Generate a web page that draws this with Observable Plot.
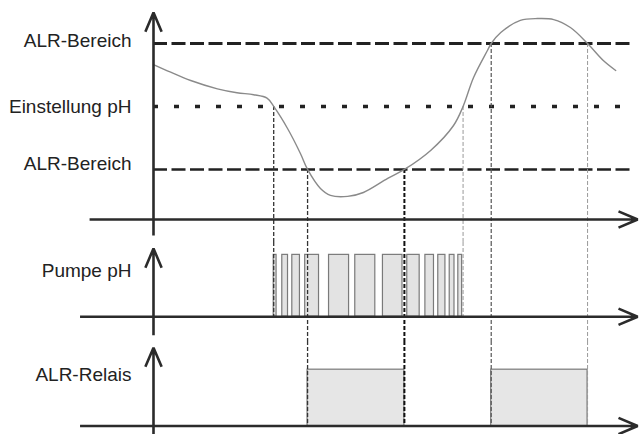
<!DOCTYPE html>
<html><head><meta charset="utf-8">
<script src="https://cdn.jsdelivr.net/npm/d3@7"></script>
<script src="https://cdn.jsdelivr.net/npm/@observablehq/plot@0.6"></script>
<style>
html,body{margin:0;padding:0;background:#fff;overflow:hidden;}
#chart svg{display:block;background:transparent;overflow:visible;}
</style></head><body><div id="chart"></div>
<script>
// ---- data (time in arbitrary units 0..100, pH values) ----
const curveT  = [0, 3.6, 7.8, 13.4, 17.5, 21.0, 23.8, 25.2, 28.1, 30.8, 32.3, 35.0, 37.1, 40.7, 44.0, 49.1, 52.6, 58.1, 62.9, 64.9, 67.1, 70.0, 70.8, 72.8, 76.9, 80.5, 83.9, 87.4, 91.0, 94.3, 96.9];
const curvePH = [7.333, 7.272, 7.206, 7.14, 7.109, 7.093, 7.066, 7.0, 6.825, 6.627, 6.5, 6.349, 6.294, 6.286, 6.317, 6.429, 6.5, 6.651, 6.849, 7.0, 7.23, 7.444, 7.5, 7.587, 7.683, 7.698, 7.69, 7.627, 7.5, 7.365, 7.286];

const levelLabels = ["ALR-Bereich", "Einstellung pH", "ALR-Bereich"];
const levelPH     = [7.5, 7.0, 6.5];

const pulseStart = [25.2, 27.0, 29.1, 31.8, 36.8, 42.3, 48.1, 53.2, 57.0, 59.7, 62.1, 63.9];
const pulseEnd   = [25.8, 28.2, 30.7, 34.7, 41.0, 46.5, 52.2, 55.8, 58.8, 61.2, 63.1, 64.7];

const relayStart = [32.3, 70.8];
const relayEnd   = [52.6, 91.0];

const crossT   = [25.2, 32.3, 52.6, 64.9, 70.8, 91.0];
const crossPH  = [7.0, 6.5, 6.5, 7.0, 7.5, 7.5];
const crossEnd = ["pump", "relais", "relais", "pump", "relais", "relais"];

const panelLabels = ["Pumpe pH", "ALR-Relais"];
const panelLabelY = [0.736, 0.914];

// ---- styles / layout ----
const FONT = "'Liberation Sans', Arial, sans-serif";
const AX = "#2b2b2b";
const guideStyle = [
  {w: 1.3, c: "#333"}, {w: 1.3, c: "#333"}, {w: 2.0, c: "#111"},
  {w: 1.0, c: "#999"}, {w: 1.2, c: "#555"}, {w: 1.0, c: "#999"}
];
const levelStyle = [
  {w: 3.2, d: "14,4.5", c: "#222", dy: -3, x2: 100},
  {w: 3.4, d: "5,16",   c: "#222", dy: 0,  x2: 100.5},
  {w: 2.4, d: "14,4.5", c: "#222", dy: -6, x2: 100}
];
const arrowOpts = {stroke: AX, strokeWidth: 2.6, headLength: 12, headAngle: 46, strokeLinejoin: "miter", strokeLinecap: "butt"};
const X = {domain: [0, 100], range: [153, 630], axis: null};
const common = {width: 642, margin: 0, style: {background: "transparent", overflow: "visible"}};

const curve = curveT.map((t, i) => ({t, ph: curvePH[i]}));
const levels = levelPH.map((ph, i) => ({ph, label: levelLabels[i]}));
const pulses = pulseStart.map((s, i) => ({s, e: pulseEnd[i]}));
const relays = relayStart.map((s, i) => ({s, e: relayEnd[i]}));
const crosses = crossT.map((t, i) => ({t, ph: crossPH[i], end: crossEnd[i]}));

// ---- top panel: pH curve ----
const topPlot = Plot.plot({
  ...common, height: 242,
  x: X,
  y: {domain: [5.92, 7.8], range: [242, 5.2], axis: null},
  marks: [
    ...levels.map((l, i) => Plot.ruleY([l], {y: "ph", x1: 0, x2: levelStyle[i].x2, stroke: levelStyle[i].c, strokeWidth: levelStyle[i].w, strokeDasharray: levelStyle[i].d})),
    ...levels.map((l, i) => Plot.text([l], {x: 0, y: "ph", text: "label", dx: -22, dy: levelStyle[i].dy, textAnchor: "end", fontSize: 19, fontFamily: FONT, fill: "#222"})),
    ...crosses.map((c, i) => Plot.ruleX([c], {x: "t", y1: "ph", y2: 5.92, stroke: guideStyle[i].c, strokeWidth: guideStyle[i].w, strokeDasharray: "4,2"})),
    Plot.line(curve, {x: "t", y: "ph", curve: "catmull-rom", stroke: "#8a8a8a", strokeWidth: 1.4}),
    Plot.arrow([0], {x1: 0, x2: 0, y1: 5.976, y2: 7.746, ...arrowOpts}),
    Plot.arrow([0], {x1: -13.4, x2: 101.5, y1: 6.103, y2: 6.103, ...arrowOpts})
  ]
});

// ---- pump panel ----
const pumpPlot = Plot.plot({
  ...common, height: 99,
  x: X,
  y: {domain: [-0.4, 1.2], range: [99, 0], axis: null},
  marks: [
    Plot.rect(pulses, {x1: "s", x2: "e", y1: 0, y2: 1, fill: "#e3e3e3", stroke: "#7a7a7a", strokeWidth: 1.2}),
    ...crosses.map((c, i) => Plot.ruleX([c], {x: "t", y1: 1.2, y2: c.end === "pump" ? 0 : -0.4, stroke: guideStyle[i].c, strokeWidth: guideStyle[i].w, strokeDasharray: "4,2"})),
    Plot.text([panelLabels[0]], {x: 0, y: panelLabelY[0], text: d => d, dx: -22, textAnchor: "end", fontSize: 19, fontFamily: FONT, fill: "#222"}),
    Plot.arrow([0], {x1: 0, x2: 0, y1: -0.3, y2: 1.103, ...arrowOpts}),
    Plot.arrow([0], {x1: -15.4, x2: 101.5, y1: 0, y2: 0, ...arrowOpts})
  ]
});

// ---- relay panel ----
const relayPlot = Plot.plot({
  ...common, height: 93,
  x: X,
  y: {domain: [-0.15, 1.5], range: [93, 0], axis: null},
  marks: [
    Plot.rect(relays, {x1: "s", x2: "e", y1: 0, y2: 1, fill: "#e6e6e6", stroke: "#7a7a7a", strokeWidth: 1.2}),
    ...crosses.map((c, i) => c.end === "relais" ? Plot.ruleX([c], {x: "t", y1: 1.5, y2: 0, stroke: guideStyle[i].c, strokeWidth: guideStyle[i].w, strokeDasharray: "4,2"}) : null).filter(Boolean),
    Plot.text([panelLabels[1]], {x: 0, y: panelLabelY[1], text: d => d, dx: -22, textAnchor: "end", fontSize: 19, fontFamily: FONT, fill: "#222"}),
    Plot.arrow([0], {x1: 0, x2: 0, y1: -0.15, y2: 1.39, ...arrowOpts}),
    Plot.arrow([0], {x1: -15.4, x2: 101.5, y1: 0, y2: 0, ...arrowOpts})
  ]
});

const root = document.getElementById("chart");
root.append(topPlot, pumpPlot, relayPlot);
</script></body></html>
